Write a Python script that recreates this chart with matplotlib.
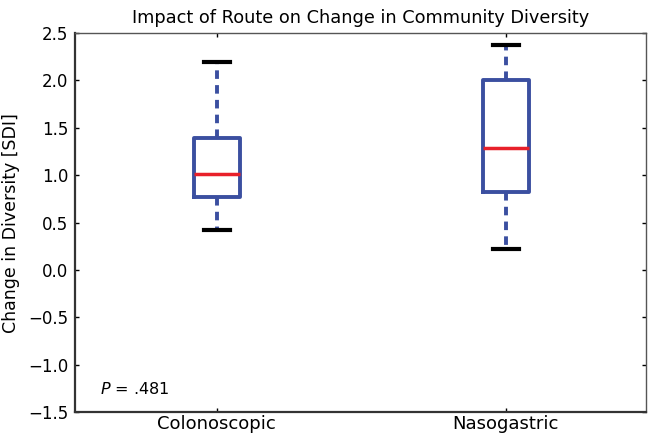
import numpy as np
import matplotlib
matplotlib.use("Agg")
import matplotlib.pyplot as plt

routes = ["Colonoscopic", "Nasogastric"]
whislo = [0.42, 0.22]
q1 = [0.77, 0.82]
med = [1.01, 1.29]
q3 = [1.39, 2.00]
whishi = [2.20, 2.37]
p_text = "= .481"

stats = []
for i in range(len(routes)):
    stats.append({"label": routes[i], "whislo": whislo[i], "q1": q1[i],
                  "med": med[i], "q3": q3[i], "whishi": whishi[i], "fliers": []})

fig = plt.figure(figsize=(6.5, 4.37), dpi=100)
ax = fig.add_axes([0.1154, 0.0572, 0.8785, 0.867])

blue = "#3b4fa0"
ax.bxp(stats, positions=[1, 2], widths=0.159, showfliers=False,
       boxprops=dict(color=blue, linewidth=2.8),
       whiskerprops=dict(color=blue, linewidth=2.8, linestyle=(0, (2.2, 1.6))),
       capprops=dict(color="black", linewidth=3),
       medianprops=dict(color="#e8202a", linewidth=2.5),
       capwidths=0.09)

ax.set_xlim(0.51, 2.485)
ax.set_ylim(-1.5, 2.5)
ax.set_yticks(np.arange(-1.5, 2.51, 0.5))
ax.set_xticks([1, 2])
ax.set_xticklabels(routes, fontsize=13)
ax.tick_params(axis="y", labelsize=12, pad=5)
ax.tick_params(direction="in", length=3, top=True, right=True, width=1)
ax.tick_params(axis="x", pad=2)

for s in ["left", "bottom"]:
    ax.spines[s].set_linewidth(1.6)
    ax.spines[s].set_color("#333333")
for s in ["top", "right"]:
    ax.spines[s].set_linewidth(1.0)
    ax.spines[s].set_color("#555555")

ax.set_title("Impact of Route on Change in Community Diversity", fontsize=12.8, pad=7)
ax.set_ylabel("Change in Diversity [SDI]", fontsize=12.5)
ax.yaxis.set_label_coords(-0.096, 0.5)

ax.text(0.044, 0.06, "$\\it{P}$ " + p_text, transform=ax.transAxes, fontsize=11.5,
        va="center")

fig.savefig("out.png", dpi=100)
